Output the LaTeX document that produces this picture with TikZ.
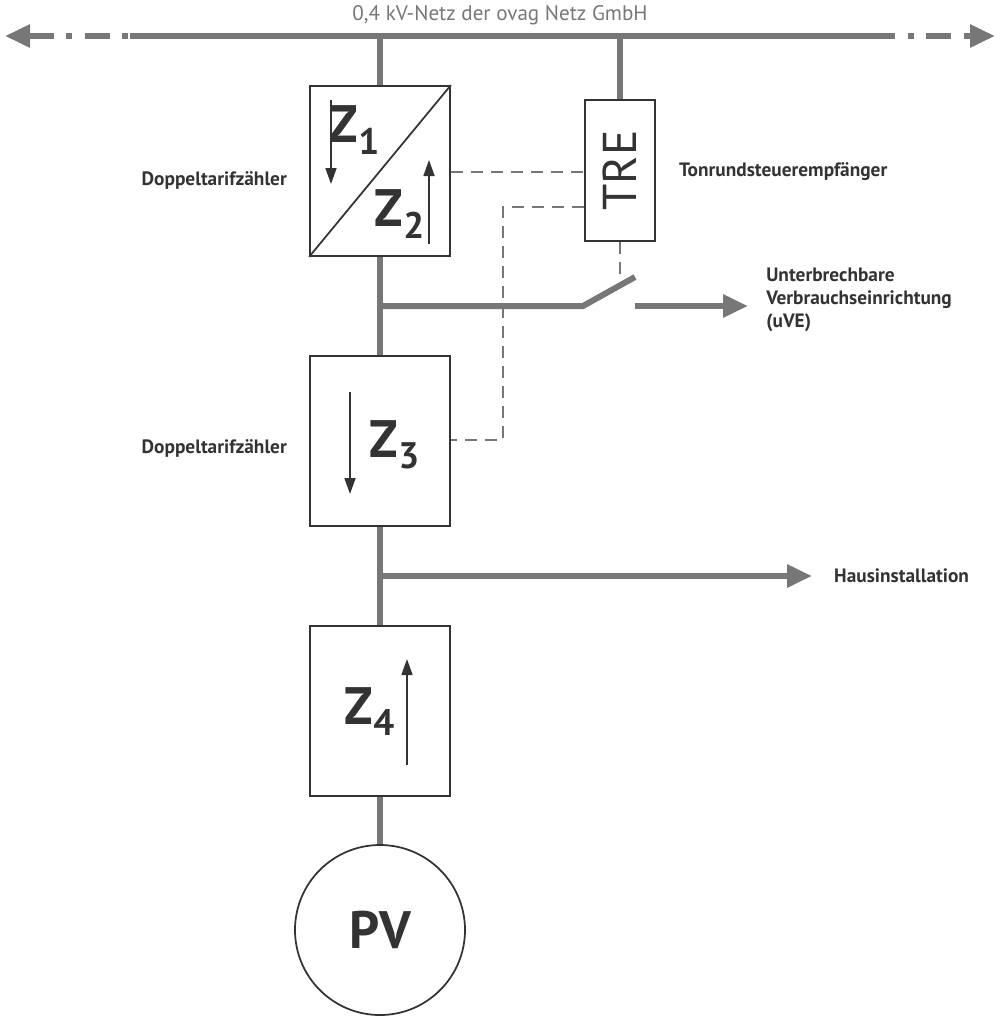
\documentclass[tikz,border=0pt]{standalone}
\usepackage{fontspec}
\setmainfont{PT Sans}
\usetikzlibrary{arrows.meta}
\definecolor{netgray}{HTML}{777777}
\definecolor{boxdark}{HTML}{333333}
\tikzset{
  wire/.style={netgray, line width=1.2mm},
  meter/.style={draw=boxdark, line width=0.35mm, fill=white, minimum width=28mm, minimum height=34mm, inner sep=0pt},
  ctrl/.style={netgray, dashed, line width=0.3mm, dash pattern=on 2.4mm off 1.6mm},
  cnt/.style={boxdark, line width=0.35mm, -{Triangle[length=3.2mm,width=2.2mm]}},
  feed/.style={wire, -{Triangle[length=5mm,width=4.4mm]}},
  lbl/.style={font=\fontsize{11}{13}\selectfont\bfseries, text=boxdark, align=left},
  zlbl/.style={font=\fontsize{30}{32}\selectfont\bfseries, text=boxdark}
}
\begin{document}
\begin{tikzpicture}[x=0.2mm, y=-0.2mm]
\useasboundingbox (0,0) rectangle (1000,1027);

% bus
\coordinate (busL) at (5,36);
\coordinate (busR) at (995,36);
\draw[wire] (130,36) -- (870,36);
\draw[wire, dash pattern=on 5mm off 2.5mm on 1.2mm off 2.5mm, {Triangle[length=5mm,width=4.4mm]}-] (busL) -- (130,36);
\draw[wire, dash pattern=on 5mm off 2.5mm on 1.2mm off 2.5mm, -{Triangle[length=5mm,width=4.4mm]}] (870,36) -- (busR);
\node[font=\fontsize{12}{14}\selectfont, text=netgray] (bus) at (500,15) {0,4 kV-Netz der ovag Netz GmbH};

% main line
\coordinate (top) at (380,36);
\node[draw=boxdark, line width=0.35mm, circle, minimum size=34mm, inner sep=0pt] (pv) at (380,930) {};
\draw[wire] (top) -- (pv.north);

% meters
\node[meter] (z12) at (380,171) {};
\node[meter] (z3) at (380,441) {};
\node[meter] (z4) at (380,711) {};
\draw[boxdark, line width=0.35mm] (z12.south west) -- (z12.north east);
\node[zlbl] (t1) at (355,130) {Z\textsubscript{1}};
\node[zlbl] (t2) at (400,214) {Z\textsubscript{2}};
\draw[cnt] (331,100) -- (331,184);
\draw[cnt] (429,244) -- (429,160);
\node[zlbl] (t3) at (395,445) {Z\textsubscript{3}};
\draw[cnt] (350,392) -- (350,494);
\node[zlbl] (t4) at (370,712) {Z\textsubscript{4}};
\draw[cnt] (407,765) -- (407,659);
\node[font=\fontsize{30}{32}\selectfont\bfseries, text=boxdark] (pvt) at (pv) {PV};

\node[lbl, anchor=east] (dt1) at (293,180) {Doppeltarifzähler};
\node[lbl, anchor=east] (dt2) at (293,448) {Doppeltarifzähler};

% TRE
\node[draw=boxdark, line width=0.35mm, fill=white, minimum width=14mm, minimum height=28.2mm, inner sep=0pt] (tre) at (620,170.5) {};
\node[rotate=90, font=\fontsize{27}{30}\selectfont, text=boxdark] (tret) at (620,170.5) {TRE};
\draw[wire] (620,36) -- (tre.north);
\node[lbl, anchor=west] (tr) at (673,172) {Tonrundsteuerempfänger};

% control lines
\draw[ctrl] (z12.east |- 0,172) -- (tre.west |- 0,172);
\draw[ctrl] (tre.west |- 0,207) -- (503,207) -- (503,440) -- (z3.east |- 0,440);
\draw[ctrl] (tre.south) -- (620,280);

% switch
\coordinate (sw1) at (583,306);
\coordinate (sw2) at (635,277);
\draw[wire] (380,306) -- (sw1) -- (sw2);
\coordinate (uvs) at (635,306);
\draw[feed] (uvs) -- (748,306);
\node[lbl, anchor=north west, inner sep=0pt] (uve) at (766,268) {Unterbrechbare\\Verbrauchseinrichtung\\(uVE)};

% house
\coordinate (hs) at (380,576);
\draw[feed] (hs) -- (812,576);
\node[lbl, anchor=west] (hi) at (828,576) {Hausinstallation};
\end{tikzpicture}
\end{document}
